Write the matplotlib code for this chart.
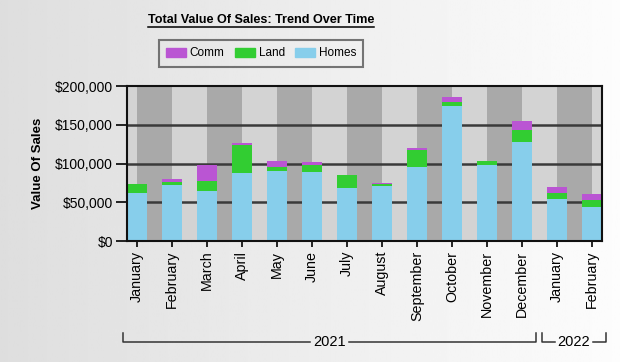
import matplotlib

matplotlib.use("Agg")
import matplotlib.pyplot as plt
import numpy as np
from matplotlib.lines import Line2D
from matplotlib.patches import Patch
from matplotlib.ticker import FuncFormatter
from matplotlib.transforms import blended_transform_factory

plt.rcParams["font.family"] = ["Liberation Sans", "DejaVu Sans"]

months = ["January", "February", "March", "April", "May", "June", "July",
          "August", "September", "October", "November", "December",
          "January", "February"]
years = ["2021", "2022"]
year_counts = [12, 2]
homes = [62000, 72500, 65000, 87500, 90000, 88500, 68000,
         70500, 95000, 174000, 97500, 127500, 54500, 44500]
land = [11000, 4000, 12500, 36500, 5000, 10000, 17000,
        3500, 22000, 6000, 5500, 16000, 7000, 8000]
comm = [500, 3000, 20000, 3000, 8500, 4000, 500,
        500, 3500, 6000, 0, 11000, 8000, 8000]

c_homes = "#87ceeb"
c_land = "#32cd32"
c_comm = "#ba55d3"

fig = plt.figure(figsize=(6.2, 3.62), dpi=100)

# gradient background
bg = fig.add_axes([0, 0, 1, 1], zorder=-10)
grad = np.linspace(0.87, 0.99, 256).reshape(1, -1)
bg.imshow(grad, cmap="gray", vmin=0, vmax=1, aspect="auto", extent=[0, 1, 0, 1])
bg.set_axis_off()

ax = fig.add_axes([127 / 620, 121 / 362, 475 / 620, 155 / 362])
ax.patch.set_alpha(0)
x = np.arange(len(months))
xmin, xmax = -10 / 35, (602 - 137) / 35

# alternating column bands
edges = [xmin] + list(x) + [xmax]
for i in range(len(edges) - 1):
    col = "#a9a9a9" if i % 2 == 1 else "#d3d3d3"
    ax.axvspan(edges[i], edges[i + 1], color=col, lw=0, zorder=0)

for yv in [50000, 100000, 150000]:
    ax.axhline(yv, color="#3a3a3a", lw=1.8, zorder=1)

w = 0.57
ax.bar(x, homes, w, color=c_homes, zorder=2)
ax.bar(x, land, w, bottom=homes, color=c_land, zorder=2)
ax.bar(x, comm, w, bottom=np.add(homes, land), color=c_comm, zorder=2)

ax.set_xlim(xmin, xmax)
ax.set_ylim(0, 200000)
ax.set_yticks([0, 50000, 100000, 150000, 200000])
ax.yaxis.set_major_formatter(FuncFormatter(lambda v, p: f"${v:,.0f}"))
ax.set_xticks(x)
ax.set_xticklabels(months, rotation=90, fontsize=10.3)
ax.tick_params(axis="y", labelsize=10, length=8, width=1.2, pad=2)
ax.tick_params(axis="x", length=4, width=1.2, pad=3)
for s in ax.spines.values():
    s.set_linewidth(1.5)
    s.set_color("#111111")
ax.set_ylabel("Value Of Sales", fontsize=9.5, fontweight="bold", labelpad=8)

# year brackets
tr = blended_transform_factory(ax.transData, ax.transAxes)
start = 0
for yr, n in zip(years, year_counts):
    x0, x1 = start - 0.4, start + n - 1 + 0.4
    if start > 0:
        x0 = start - 0.44
    xc = (x0 + x1) / 2
    yb, yt = -0.65, -0.595
    kw = dict(color="#333333", lw=1.1, transform=tr, clip_on=False)
    ax.plot([x0, x0, xc - 0.55], [yt, yb, yb], **kw)
    ax.plot([xc + 0.55, x1, x1], [yb, yb, yt], **kw)
    ax.text(xc, yb, yr, transform=tr, ha="center", va="center", fontsize=10.5)
    start += n

# title with underline
title = fig.text(261 / 620, 1 - 20 / 362, "Total Value Of Sales: Trend Over Time",
                 ha="center", va="center", fontsize=9.1, fontweight="bold")
fig.canvas.draw()
bb = title.get_window_extent()
fig.add_artist(Line2D([bb.x0 / 620, bb.x1 / 620], [(bb.y0 - 1) / 362] * 2,
                      color="black", lw=1.1, transform=fig.transFigure))

handles = [Patch(color=c_comm, label="Comm"), Patch(color=c_land, label="Land"),
           Patch(color=c_homes, label="Homes")]
leg = fig.legend(handles=handles, ncol=3, loc="center",
                 bbox_to_anchor=(261 / 620, 1 - 53.5 / 362), fontsize=8.5,
                 frameon=True, fancybox=False, handlelength=1.7, handleheight=0.7,
                 columnspacing=0.85, handletextpad=0.34, borderpad=0.6)
leg.get_frame().set_edgecolor("#555555")
leg.get_frame().set_linewidth(1.5)
leg.get_frame().set_facecolor("none")

fig.savefig("out.png", dpi=100)
